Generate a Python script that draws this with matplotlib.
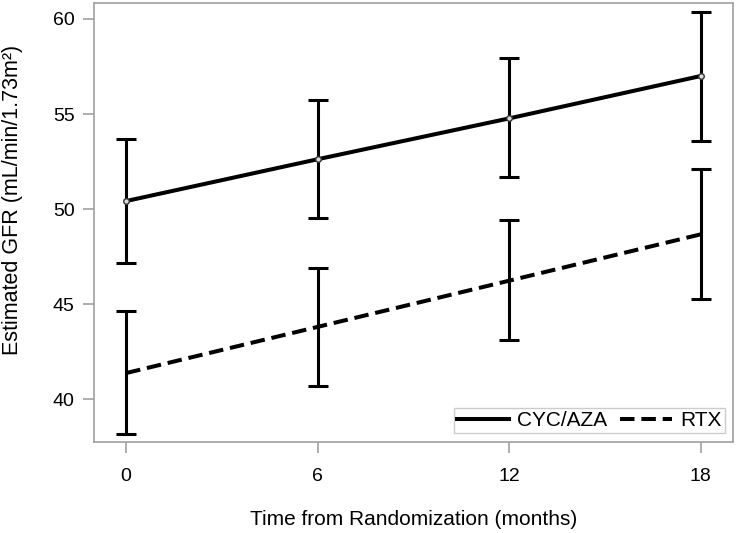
import matplotlib
matplotlib.use('Agg')
import matplotlib.pyplot as plt
import numpy as np

plt.rcParams['font.family'] = ['Liberation Sans', 'DejaVu Sans']

# ── Data ──────────────────────────────────────────────────────────────────────
months     = [0, 6, 12, 18]
cyc_mean   = [50.42, 52.62, 54.77, 57.00]
cyc_lower  = [47.17, 49.54, 51.67, 53.56]
cyc_upper  = [53.68, 55.74, 57.93, 60.38]
rtx_mean   = [41.37, 43.80, 46.23, 48.67]
rtx_lower  = [38.16, 40.70, 43.10, 45.25]
rtx_upper  = [44.65, 46.91, 49.40, 52.09]
y_ticks    = [40, 45, 50, 55, 60]

GREY = '#a0a0a0'

fig = plt.figure(figsize=(7.36, 5.33), dpi=100)
ax = fig.add_axes([0.128, 0.171, 0.8675, 0.823])

def errs(mean, lo, hi):
    mean, lo, hi = map(np.asarray, (mean, lo, hi))
    return np.vstack([mean - lo, hi - mean])

for mean, lo, hi in [(cyc_mean, cyc_lower, cyc_upper), (rtx_mean, rtx_lower, rtx_upper)]:
    ax.errorbar(months, mean, yerr=errs(mean, lo, hi), fmt='none', ecolor='black',
                elinewidth=2.2, capsize=7.3, capthick=2.2)

ax.plot(months, cyc_mean, color='black', lw=2.9, label='CYC/AZA',
        marker='o', ms=4, mfc='#dddddd', mec='#333333', mew=1)
ax.plot(months, rtx_mean, color='black', lw=2.9, ls=(0, (3.6, 1.7)), label='RTX')

ax.set_xlim(-1, 19)
ax.set_ylim(37.75, 60.83)
ax.set_xticks(months)
ax.set_yticks(y_ticks)

for s in ax.spines.values():
    s.set_color(GREY)
    s.set_linewidth(1.2)
ax.tick_params(axis='both', colors=GREY, length=8, width=1.2, labelcolor='black',
               labelsize=14)
ax.tick_params(axis='x', pad=11)
ax.tick_params(axis='y', pad=6)

ax.set_xlabel('Time from Randomization (months)', fontsize=15)
ax.set_ylabel('Estimated GFR (mL/min/1.73m²)', fontsize=15.5)
ax.xaxis.set_label_coords(0.5, -0.156)
ax.yaxis.set_label_coords(-0.112, 0.551)

leg = ax.legend(loc='lower right', bbox_to_anchor=(0.988, 0.02), ncol=2, fontsize=15,
                frameon=True, fancybox=False, handlelength=2.5, handletextpad=0.4,
                columnspacing=0.6, borderpad=0.15, borderaxespad=0)
leg.get_frame().set_edgecolor('#c0c0c0')
leg.get_frame().set_linewidth(1.0)
for h in leg.get_lines():
    h.set_marker('')

fig.savefig('out.png', dpi=100)
